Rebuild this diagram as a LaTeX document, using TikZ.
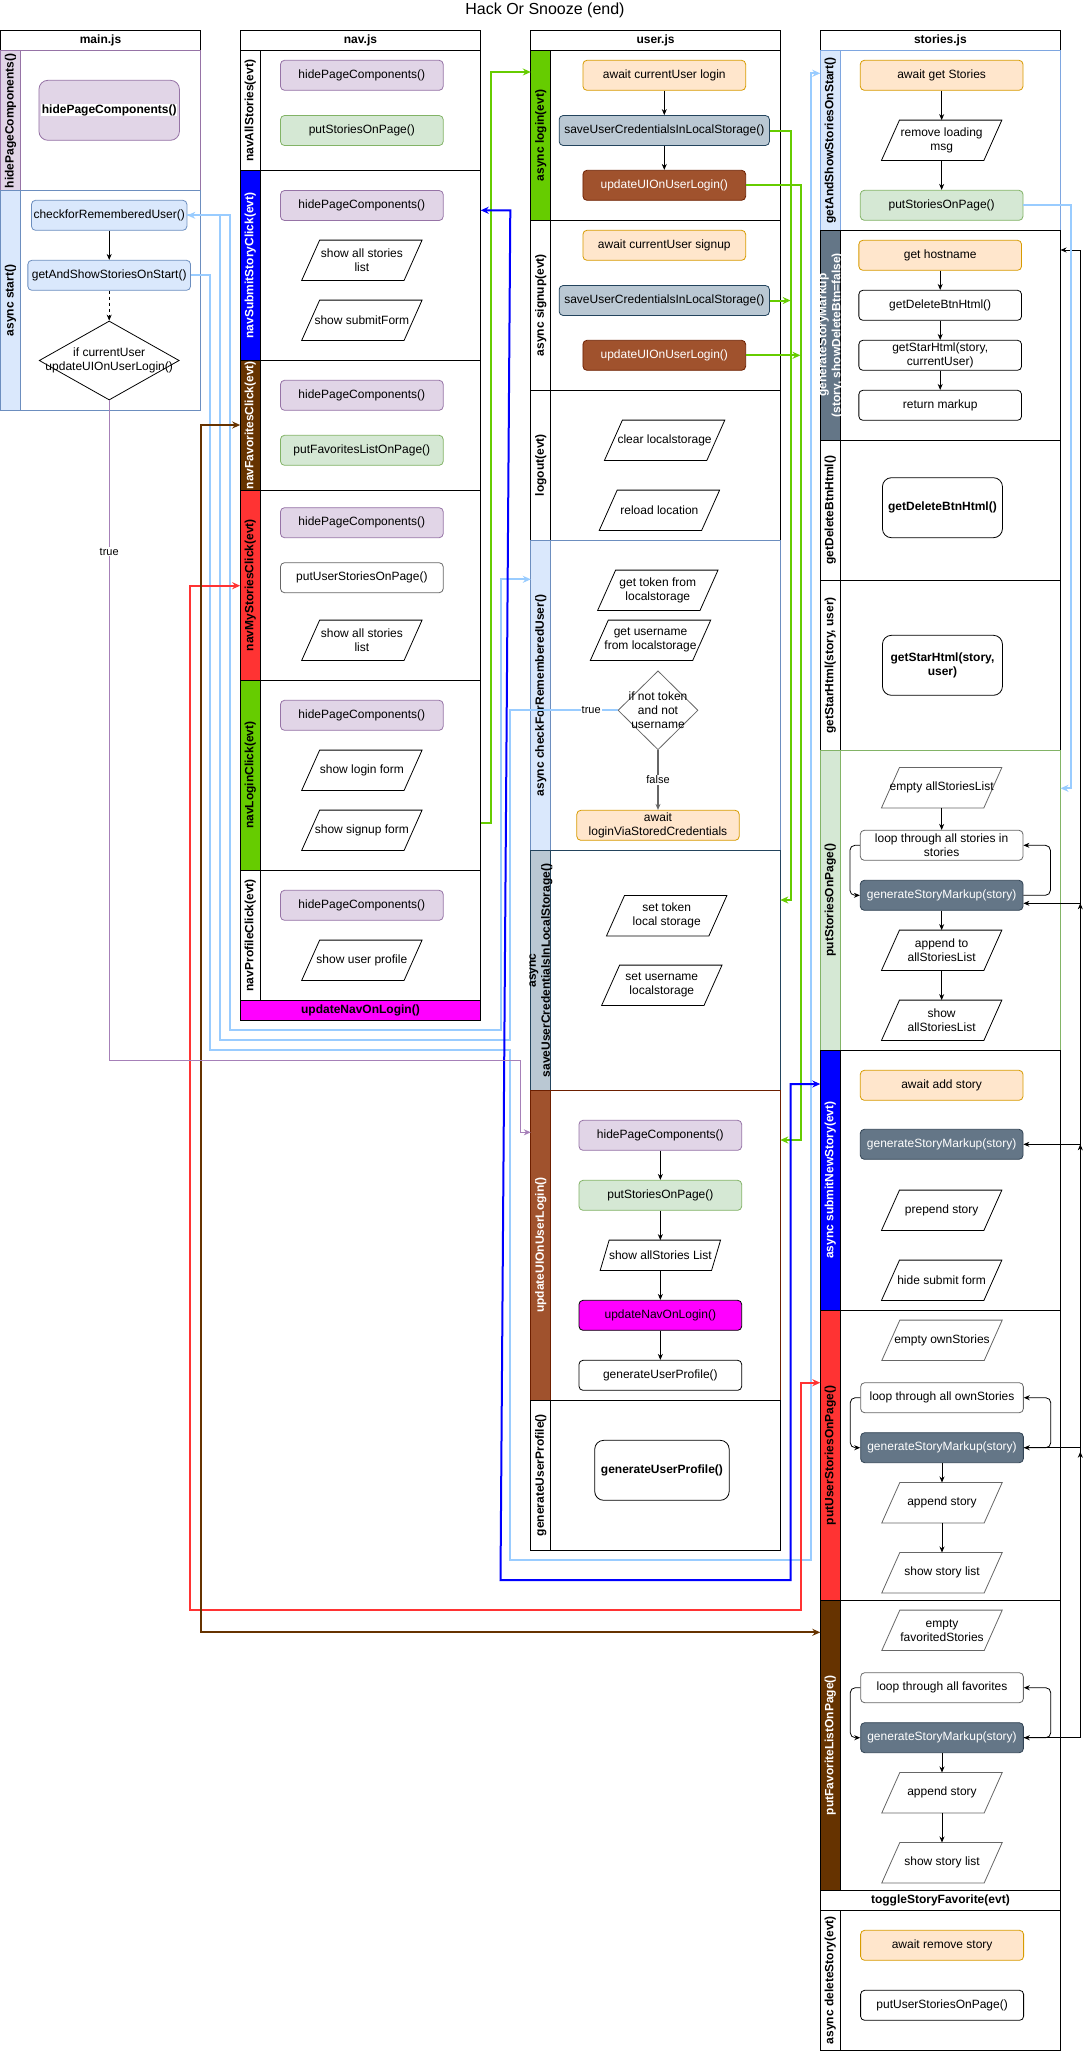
\documentclass[tikz,border=0pt]{standalone}
\usepackage{fontspec}
\setmainfont{Liberation Sans}
\usepackage{tikz}
\definecolor{HsPurple}{HTML}{9673A6}
\definecolor{HsPurpleFill}{HTML}{E1D5E7}
\definecolor{HsGreen}{HTML}{82B366}
\definecolor{HsGreenFill}{HTML}{D5E8D4}
\definecolor{HsBlue}{HTML}{6C8EBF}
\definecolor{HsBlueFill}{HTML}{DAE8FC}
\definecolor{HsSky}{HTML}{7EA6E0}
\definecolor{HsOrange}{HTML}{D79B00}
\definecolor{HsOrangeFill}{HTML}{FFE6CC}
\definecolor{HsSteel}{HTML}{23445D}
\definecolor{HsSteelFill}{HTML}{BAC8D3}
\definecolor{HsSienna}{HTML}{A0522D}
\definecolor{HsSiennaLine}{HTML}{6D1F00}
\definecolor{HsSlate}{HTML}{647687}
\definecolor{HsSlateLine}{HTML}{314354}
\definecolor{HsMagenta}{HTML}{FF00FF}
\definecolor{HsGrey}{HTML}{666666}
\definecolor{HsLaneBlue}{HTML}{0000FF}
\definecolor{HsLaneBrown}{HTML}{663300}
\definecolor{HsLaneRed}{HTML}{FF3333}
\definecolor{HsLaneGreen}{HTML}{66CC00}
\definecolor{HsLinkSky}{HTML}{99CCFF}
\definecolor{HsLinkPurple}{HTML}{A680B8}
\usetikzlibrary{
    shapes.geometric,
    arrows.meta,
    positioning,
    calc,
}

% one swimlane: name, x1, x2, y1, y2, band fill, stroke, text colour, label
\newcommand{\lane}[9]{%
    \node[lanebox, draw=#7, minimum width={(#3-#2)*1pt}, minimum height={(#5-#4)*1pt}] (#1) at ({(#2+#3)/2},{(#4+#5)/2}) {};
    \draw[draw=#7, fill=#6, line width=0.8pt] (#1.north west) rectangle ([xshift=20pt]#1.south west);
    \node[lanelbl, text=#8] (#1-txt) at ([xshift=10pt]#1.west) {#9};
}

\begin{document}
\begin{tikzpicture}[
    x=1pt, y=-1pt,
    >={Stealth[length=8pt,width=7pt]},
    lanebox/.style={rectangle, line width=0.8pt, inner sep=0pt, outer sep=0pt},
    lanelbl/.style={rotate=90, align=center, inner sep=0pt, font=\bfseries\fontsize{12}{14}\selectfont},
    colhead/.style={rectangle, draw, line width=0.8pt, minimum height=20pt, inner sep=0pt, outer sep=0pt, font=\bfseries\fontsize{12}{14}\selectfont},
    box/.style={rectangle, rounded corners=4pt, draw=#1, line width=0.8pt, minimum width=162.7pt, minimum height=30pt, inner sep=1pt, align=center, font=\fontsize{12}{14}\selectfont},
    box/.default=black,
    hidebox/.style={box=HsPurple, fill=HsPurpleFill},
    pagebox/.style={box=HsGreen, fill=HsGreenFill},
    awaitbox/.style={box=HsOrange, fill=HsOrangeFill},
    credbox/.style={box=HsSteel, fill=HsSteelFill, minimum width=210.3pt},
    uibox/.style={box=HsSiennaLine, fill=HsSienna, text=white},
    markbox/.style={box=HsSlateLine, fill=HsSlate, text=white},
    startbox/.style={box=HsBlue, fill=HsBlueFill},
    loopbox/.style={box=HsGrey},
    bigbox/.style={box=black, rounded corners=9pt, minimum width=120pt, minimum height=60pt, font=\bfseries\fontsize{12}{14}\selectfont},
    io/.style={rectangle, minimum width=120pt, minimum height=40pt, inner sep=0pt, align=center, font=\fontsize{12}{14}\selectfont,
        append after command={\pgfextra{\draw[draw=#1, line width=0.8pt]
            ([xshift=18pt]\tikzlastnode.north west) -- (\tikzlastnode.north east)
            -- ([xshift=-18pt]\tikzlastnode.south east) -- (\tikzlastnode.south west) -- cycle;}}},
    io/.default=black,
    ioflat/.style={rectangle, minimum width=120pt, minimum height=30pt, inner sep=0pt, align=center, font=\fontsize{12}{14}\selectfont,
        append after command={\pgfextra{\draw[line width=0.8pt]
            ([xshift=9pt]\tikzlastnode.north west) -- (\tikzlastnode.north east)
            -- ([xshift=-9pt]\tikzlastnode.south east) -- (\tikzlastnode.south west) -- cycle;}}},
    iotxt/.style={align=center, inner sep=0pt, font=\fontsize{12}{14}\selectfont},
    decision/.style={diamond, draw=#1, line width=0.8pt, inner sep=0pt},
    decision/.default=black,
    blk/.style={line width=0.8pt, -{Stealth[length=6pt,width=5pt]}},
    blkin/.style={line width=0.8pt, {Stealth[length=6pt,width=5pt]}-},
    lnk/.style={line width=2pt, draw=#1, ->},
    lnkboth/.style={line width=2pt, draw=#1, <->},
    edgelbl/.style={fill=white, inner sep=1pt, font=\fontsize{11}{13}\selectfont}
]
    \useasboundingbox (0,0) rectangle (1090,2051);
    \node[font=\fontsize{16}{19}\selectfont] (title) at (545,10.5) {Hack Or Snooze (end)};

    % column heads
    \node[colhead, minimum width=200pt]   (hdMain)    at (100.5,40.7)  {main.js};
    \node[colhead, minimum width=240.5pt] (hdNav)     at (360.45,40.7) {nav.js};
    \node[colhead, minimum width=249.5pt] (hdUser)    at (655.55,40.7) {user.js};
    \node[colhead, minimum width=240.2pt] (hdStories) at (940.4,40.7)  {stories.js};

    % main.js
    \lane{lnMainHide}{0.5}{200.5}{50.7}{190.7}{HsPurpleFill}{HsPurple}{black}{hidePageComponents()}
    \lane{lnMainStart}{0.5}{200.5}{190.7}{410}{HsBlueFill}{HsBlue}{black}{async start()}

    % nav.js
    \lane{lnNavAll}{240.2}{480.7}{50.7}{170.7}{white}{black}{black}{navAllStories(evt)}
    \lane{lnNavSubmit}{240.2}{480.7}{170.7}{360.3}{HsLaneBlue}{black}{white}{navSubmitStoryClick(evt)}
    \lane{lnNavFav}{240.2}{480.7}{360.3}{490}{HsLaneBrown}{black}{white}{navFavoritesClick(evt)}
    \lane{lnNavMine}{240.2}{480.7}{490}{680.3}{HsLaneRed}{black}{black}{navMyStoriesClick(evt)}
    \lane{lnNavLogin}{240.2}{480.7}{680.3}{870.3}{HsLaneGreen}{black}{black}{navLoginClick(evt)}
    \lane{lnNavProfile}{240.2}{480.7}{870.3}{1000.3}{white}{black}{black}{navProfileClick(evt)}
    \node[colhead, fill=HsMagenta, minimum width=240.5pt] (barNavLogin) at (360.45,1010.3) {updateNavOnLogin()};

    % user.js
    \lane{lnLogin}{530.8}{780.3}{50.7}{220.3}{HsLaneGreen}{black}{black}{async login(evt)}
    \lane{lnSignup}{530.8}{780.3}{220.3}{390.3}{white}{black}{black}{async signup(evt)}
    \lane{lnLogout}{530.8}{780.3}{390.3}{540.3}{white}{black}{black}{logout(evt)}
    \lane{lnCheck}{530.8}{780.3}{540.3}{850.7}{HsBlueFill}{HsBlue}{black}{async checkForRememberedUser()}
    \lane{lnSave}{530.8}{780.3}{850.7}{1090.3}{HsSteelFill}{HsSteel}{black}{async\\saveUserCredentialsInLocalStorage()}
    \lane{lnUpdate}{530.8}{780.3}{1090.3}{1400.3}{HsSienna}{HsSiennaLine}{white}{updateUIOnUserLogin()}
    \lane{lnProfile}{530.8}{780.3}{1400.3}{1550}{white}{black}{black}{generateUserProfile()}

    % stories.js
    \lane{lnGetShow}{820.3}{1060.5}{50.7}{230}{HsBlueFill}{HsSky}{black}{getAndShowStoriesOnStart()}
    \lane{lnGen}{820.3}{1060.5}{230}{440.3}{HsSlate}{black}{white}{generateStoryMarkup\\(story, showDeleteBtn=false)}
    \lane{lnDel}{820.3}{1060.5}{440.3}{580.3}{white}{black}{black}{getDeleteBtnHtml()}
    \lane{lnStar}{820.3}{1060.5}{580.3}{750.3}{white}{black}{black}{getStarHtml(story, user)}
    \lane{lnPut}{820.3}{1060.5}{750.3}{1050}{HsGreenFill}{HsGreen}{black}{putStoriesOnPage()}
    \lane{lnSubmit}{820.3}{1060.5}{1050}{1310.3}{HsLaneBlue}{black}{white}{async submitNewStory(evt)}
    \lane{lnPutUser}{820.3}{1060.5}{1310.3}{1600.3}{HsLaneRed}{black}{black}{putUserStoriesOnPage()}
    \lane{lnPutFav}{820.3}{1060.5}{1600.3}{1890}{HsLaneBrown}{black}{white}{putFavoriteListOnPage()}
    \node[colhead, minimum width=240.2pt] (barToggle) at (940.4,1900) {toggleStoryFavorite(evt)};
    \lane{lnDelete}{820.3}{1060.5}{1910}{2050}{white}{black}{black}{async deleteStory(evt)}

    % main.js steps
    \node[bigbox, draw=HsPurple, fill=HsPurpleFill, minimum width=140.5pt,
        label={[fill=white, inner sep=0.5pt, font=\bfseries\fontsize{12}{14}\selectfont]center:hidePageComponents()}] (mHide) at (109.2,110.3) {};
    \node[startbox, minimum width=155.4pt] (mCheck) at (109.2,215.3) {checkforRememberedUser()};
    \node[startbox] (mGas) at (109.2,275.3) {getAndShowStoriesOnStart()};
    \node[decision, minimum width=140pt, minimum height=79pt,
        label={[iotxt]center:{if currentUser\\updateUIOnUserLogin()}}] (mIf) at (109.2,360.5) {};
    \draw[blk] (mCheck) -- (mGas);
    \draw[blk, dashed] (mGas) -- (mIf);

    % nav.js steps
    \node[hidebox] (nAllHide) at (361.85,75.3) {hidePageComponents()};
    \node[pagebox] (nAllPut)  at (361.85,130.5) {putStoriesOnPage()};
    \node[hidebox] (nSubHide) at (361.85,205.5) {hidePageComponents()};
    \node[io] (nSubList) at (361.85,260.3) {show all stories\\list};
    \node[io] (nSubForm) at (361.85,320.3) {show submitForm};
    \node[hidebox] (nFavHide) at (361.85,395.3) {hidePageComponents()};
    \node[pagebox] (nFavPut)  at (361.85,450.3) {putFavoritesListOnPage()};
    \node[hidebox] (nMineHide) at (361.85,522.7) {hidePageComponents()};
    \node[loopbox] (nMinePut)  at (361.85,577.7) {putUserStoriesOnPage()};
    \node[io] (nMineList) at (361.85,640.3) {show all stories\\list};
    \node[hidebox] (nLoginHide) at (361.85,715.3) {hidePageComponents()};
    \node[io] (nLoginForm) at (361.85,770.3) {show login form};
    \node[io] (nSignupForm) at (361.85,830.3) {show signup form};
    \node[hidebox] (nProfHide) at (361.85,905.3) {hidePageComponents()};
    \node[io] (nProfShow) at (361.85,960.3) {show user profile};

    % user.js steps
    \node[awaitbox] (uLoginAwait) at (664.3,75.3)  {await currentUser login};
    \node[credbox]  (uLoginSave)  at (664.3,130.5) {saveUserCredentialsInLocalStorage()};
    \node[uibox]    (uLoginUpd)   at (664.3,185.3) {updateUIOnUserLogin()};
    \draw[blk] (uLoginAwait) -- (uLoginSave);
    \draw[blk] (uLoginSave) -- (uLoginUpd);
    \node[awaitbox] (uSignAwait) at (664.3,245.3) {await currentUser signup};
    \node[credbox]  (uSignSave)  at (664.3,300.5) {saveUserCredentialsInLocalStorage()};
    \node[uibox]    (uSignUpd)   at (664.3,355.3) {updateUIOnUserLogin()};
    \node[io] (uClear) at (664.6,440.3) {clear localstorage};
    \node[io] (uReload) at (659.4,510.3) {reload location};
    \node[io] (uToken) at (657.8,590.3) {get token from\\localstorage};
    \node[io] (uName) at (650.5,640.3) {get username\\from localstorage};
    \node[decision=HsGrey, minimum width=80pt, minimum height=79pt,
        label={[iotxt]center:{if not token\\and not\\username}}] (uIfTok) at (658,710.3) {};
    \node[awaitbox, minimum width=162.4pt] (uViaStored) at (658,825.3) {await\\loginViaStoredCredentials};
    \draw[blk, draw=HsGrey, line width=1.2pt] (uIfTok) -- (uViaStored);
    \node[edgelbl] (lblCheckFalse) at (658,780) {false};
    \node[io] (uSetTok) at (666.7,915.7) {set token\\local storage};
    \node[io] (uSetName) at (661.8,985.3) {set username\\localstorage};
    \node[hidebox] (uUpdHide) at (660.35,1135.3) {hidePageComponents()};
    \node[pagebox] (uUpdPut)  at (660.35,1195.3) {putStoriesOnPage()};
    \node[ioflat] (uUpdShow) at (660.35,1255.3) {show allStories List};
    \node[box, fill=HsMagenta] (uUpdNav) at (660.35,1315.3) {updateNavOnLogin()};
    \node[box] (uUpdProf) at (660.35,1375.3) {generateUserProfile()};
    \draw[blk] (uUpdHide) -- (uUpdPut);
    \draw[blk] (uUpdPut) -- (uUpdShow);
    \draw[blk] (uUpdShow) -- (uUpdNav);
    \draw[blk] (uUpdNav) -- (uUpdProf);
    \node[bigbox, minimum width=134.5pt] (uProf) at (661.95,1470.3) {generateUserProfile()};

    % stories.js steps
    \node[awaitbox] (sGetAwait) at (941.65,75.3) {await get Stories};
    \node[io] (sRemove) at (941.65,140.3) {remove loading\\msg};
    \node[pagebox] (sGetPut) at (941.65,205.3) {putStoriesOnPage()};
    \draw[blk] (sGetAwait) -- (sRemove);
    \draw[blk] (sRemove) -- (sGetPut);
    \node[awaitbox] (sHost)    at (940.2,255.3) {get hostname};
    \node[box]      (sDelBtn)  at (940.2,305.3) {getDeleteBtnHtml()};
    \node[box]      (sStarBtn) at (940.2,355.3) {getStarHtml(story,\\currentUser)};
    \node[box]      (sReturn)  at (940.2,405.3) {return markup};
    \draw[blk] (sHost) -- (sDelBtn);
    \draw[blk] (sDelBtn) -- (sStarBtn);
    \draw[blk] (sStarBtn) -- (sReturn);
    \node[bigbox] (sDel)  at (942.45,507.7) {getDeleteBtnHtml()};
    \node[bigbox, align=center] (sStar) at (942.45,665.3) {getStarHtml(story,\\user)};

    \node[io=HsGrey] (sPutEmpty) at (941.65,787.7) {empty allStoriesList};
    \node[loopbox] (sPutLoop) at (941.65,845.3) {loop through all stories in\\stories};
    \node[markbox] (sPutGen)  at (941.65,895.3) {generateStoryMarkup(story)};
    \node[io] (sPutAppend) at (941.65,950.3) {append to\\allStoriesList};
    \node[io] (sPutShow) at (941.65,1020.3) {show\\allStoriesList};
    \draw[blk] (sPutEmpty) -- (sPutLoop);
    \draw[blk] (sPutGen) -- (sPutAppend);
    \draw[blk] (sPutAppend) -- (sPutShow);
    \draw[blk, rounded corners=5pt] (sPutLoop.west) -- ++(-10,0) |- (sPutGen.west);
    \draw[blk, rounded corners=5pt] (sPutGen.east) -- ++(27,0) |- (sPutLoop.east);

    \node[awaitbox] (sSubAwait) at (941.65,1085.3) {await add story};
    \node[markbox]  (sSubGen)   at (941.65,1144.3) {generateStoryMarkup(story)};
    \node[io] (sSubPrepend) at (941.65,1210.3) {prepend story};
    \node[io] (sSubHide) at (941.65,1280.3) {hide submit form};

    \node[io=HsGrey] (sMineEmpty) at (942,1340.3) {empty ownStories};
    \node[loopbox] (sMineLoop) at (942,1397.7) {loop through all ownStories};
    \node[markbox] (sMineGen)  at (942,1447.7) {generateStoryMarkup(story)};
    \node[io=HsGrey] (sMineAppend) at (942,1502.7) {append story};
    \node[io=HsGrey] (sMineShow) at (942,1572.7) {show story list};
    \draw[blk] (sMineGen) -- (sMineAppend);
    \draw[blk] (sMineAppend) -- (sMineShow);
    \draw[blk, rounded corners=5pt] (sMineLoop.west) -- ++(-10,0) |- (sMineGen.west);
    \draw[blk, rounded corners=5pt] (sMineGen.east) -- ++(27,0) |- (sMineLoop.east);

    \node[io=HsGrey] (sFavEmpty) at (942,1630.3) {empty\\favoritedStories};
    \node[loopbox] (sFavLoop) at (942,1687.7) {loop through all favorites};
    \node[markbox] (sFavGen)  at (942,1737.7) {generateStoryMarkup(story)};
    \node[io=HsGrey] (sFavAppend) at (942,1792.7) {append story};
    \node[io=HsGrey] (sFavShow) at (942,1862.7) {show story list};
    \draw[blk] (sFavGen) -- (sFavAppend);
    \draw[blk] (sFavAppend) -- (sFavShow);
    \draw[blk, rounded corners=5pt] (sFavLoop.west) -- ++(-10,0) |- (sFavGen.west);
    \draw[blk, rounded corners=5pt] (sFavGen.east) -- ++(27,0) |- (sFavLoop.east);

    \node[awaitbox, minimum width=163pt] (sDelAwait) at (942.1,1945.3) {await remove story};
    \node[box, minimum width=163pt] (sDelPut) at (942.1,2005.3) {putUserStoriesOnPage()};

    % markup calls back to generateStoryMarkup
    \coordinate (busTop) at (1080.3,250);
    \coordinate (putGenR) at ([yshift=-8pt]sPutGen.east);
    \draw[blk] (sFavGen.east) -| (busTop) -- (lnGen.east |- busTop);
    \draw[blkin] (putGenR) -- (putGenR -| busTop);
    \draw[blkin] (sSubGen.east) -- (sSubGen.east -| busTop);
    \draw[blkin] (sMineGen.east) -- (sMineGen.east -| busTop);
    \draw[blkin] (sFavGen.east) -- (sFavGen.east -| busTop);
    \draw[blk] (putGenR -| busTop) ++(0,10) -- ++(0,-10);
    \draw[blk] (sSubGen.east -| busTop) ++(0,10) -- ++(0,-10);
    \draw[blk] (sMineGen.east -| busTop) ++(0,14) -- ++(0,-10);

    % calls between files
    \draw[lnk=HsLaneGreen] (lnNavLogin.east |- 0,823.3) -| (490.5,72) -- (lnLogin.west |- 0,72);
    \draw[lnk=HsLaneGreen] (uLoginSave.east) -| (790.7,900) -- (lnSave.east |- 0,900);
    \draw[lnk=HsLaneGreen] (uLoginUpd.east) -| (800.5,1140) -- (lnUpdate.east |- 0,1140);
    \draw[lnk=HsLaneGreen] (uSignSave.east) -- (uSignSave.east -| 790.7,0);
    \draw[lnk=HsLaneGreen] (uSignUpd.east) -- (uSignUpd.east -| 800.5,0);

    \draw[lnk=HsLinkSky] (mGas.east) -| (210.3,1050) -| (510.3,1560) -| (810.9,73.3) -- (lnGetShow.west |- 0,73.3);
    \draw[lnk=HsLinkSky] (mCheck.east) -| (230.4,1030) -| (500.5,579.3) -- (lnCheck.west |- 0,579.3);
    \draw[lnk=HsLinkSky] (uIfTok.west) -| (510.3,1040) -| (220,215.3) -- (mCheck.east);
    \node[edgelbl] (lblCheckTrue) at (591.2,710.3) {true};
    \draw[lnk=HsLinkSky] (sGetPut.east) -| (1070.5,788.3) -- (lnPut.east |- 0,788.3);

    \draw[lnkboth=HsLaneBlue] (lnNavSubmit.east |- 0,210.3) -- (510.3,210.3) -- (500.5,1580) -| (790.7,1084) -- (lnSubmit.west |- 0,1084);
    \draw[lnkboth=HsLaneRed] (lnNavMine.west |- 0,585.7) -| (190.1,1610) -| (800.5,1382.7) -- (lnPutUser.west |- 0,1382.7);
    \draw[lnkboth=HsLaneBrown] (lnNavFav.west |- 0,425) -| (200.5,1632.3) -- (lnPutFav.west |- 0,1632.3);

    \draw[line width=1pt, draw=HsLinkPurple, -{Stealth[length=7pt,width=6pt]}] (mIf.south) |- (520.3,1060) |- (lnUpdate.west |- 0,1132.3);
    \node[edgelbl] (lblMainTrue) at (109.2,551.7) {true};
\end{tikzpicture}
\end{document}
